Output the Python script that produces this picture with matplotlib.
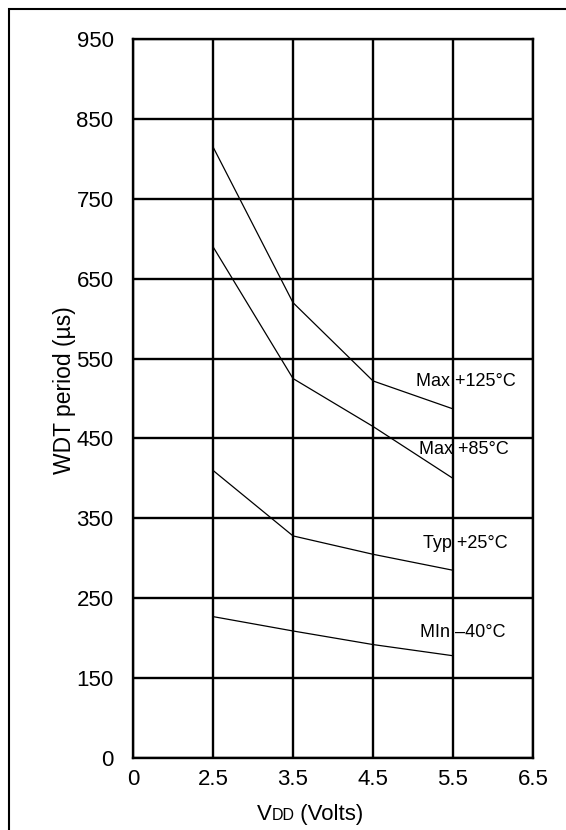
import numpy as np
import matplotlib
matplotlib.use("Agg")
import matplotlib.pyplot as plt
from matplotlib.patches import Rectangle
from matplotlib.offsetbox import TextArea, HPacker, AnnotationBbox

# ---- data ----
vdd = [2.5, 3.5, 4.5, 5.5]
max_125 = [815, 620, 522, 487]
max_85 = [690, 525, 465, 400]
typ_25 = [410, 328, 305, 285]
min_40 = [227, 209, 192, 178]
series_labels = ["Max +125\u00b0C", "Max +85\u00b0C", "Typ +25\u00b0C", "MIn \u201340\u00b0C"]

x_ticks = [0, 2.5, 3.5, 4.5, 5.5, 6.5]
x_ticklabels = ["0", "2.5", "3.5", "4.5", "5.5", "6.5"]
y_ticks = [0, 150, 250, 350, 450, 550, 650, 750, 850, 950]
y_ticklabels = [str(v) for v in y_ticks]

plt.rcParams['font.family'] = ['Liberation Sans', 'DejaVu Sans']

W, H = 566, 830
fig = plt.figure(figsize=(W / 100, H / 100), dpi=100)
ax = fig.add_axes([133 / W, 1 - 758 / H, 400 / W, 719 / H])

# broken (equal-spaced) axes as in the original datasheet graph
xi = np.arange(len(x_ticks), dtype=float)
yi = np.arange(len(y_ticks), dtype=float)
ax.set_xscale('function', functions=(lambda v: np.interp(v, x_ticks, xi),
                                     lambda p: np.interp(p, xi, x_ticks)))
ax.set_yscale('function', functions=(lambda v: np.interp(v, y_ticks, yi),
                                     lambda p: np.interp(p, yi, y_ticks)))
ax.set_xlim(x_ticks[0], x_ticks[-1])
ax.set_ylim(y_ticks[0], y_ticks[-1])
ax.set_xticks(x_ticks)
ax.set_xticklabels(x_ticklabels)
ax.set_yticks(y_ticks)
ax.set_yticklabels(y_ticklabels)
ax.minorticks_off()

ax.grid(True, color='black', linewidth=1.7, zorder=1)
ax.set_axisbelow(True)
for sp in ax.spines.values():
    sp.set_linewidth(1.7)
    sp.set_color('black')
ax.tick_params(length=0, labelsize=16, colors='black')
ax.tick_params(axis='x', pad=8)
ax.tick_params(axis='y', pad=14)

for ys in (max_125, max_85, typ_25, min_40):
    ax.plot(vdd, ys, color='black', linewidth=0.9, zorder=3)

label_pos = [(0.7075, 0.5236), (0.715, 0.4292), (0.725, 0.2986), (0.7175, 0.175)]
for lab, (px, py) in zip(series_labels, label_pos):
    ax.text(px, py, lab, transform=ax.transAxes, fontsize=13, ha='left', va='center',
            color='black', zorder=4)

# y label
fig.text(65 / W, 1 - 390 / H, "WDT period (\u00b5s)", rotation=90, fontsize=16.5,
         ha='center', va='center', color='black')

# x label with small-caps subscript style "VDD"
parts = [TextArea("V", textprops=dict(fontsize=16, color='black')),
         TextArea("DD", textprops=dict(fontsize=11.5, color='black')),
         TextArea(" (Volts)", textprops=dict(fontsize=16, color='black'))]
box = HPacker(children=parts, align="baseline", pad=0, sep=0)
ab = AnnotationBbox(box, (310, 16), xycoords='figure pixels', frameon=False,
                    box_alignment=(0.5, 0.5), pad=0)
fig.add_artist(ab)

# outer frame (cropped on the right and bottom)
fig.add_artist(Rectangle((9 / W, -0.1), 2.0, 1 - 9 / H + 0.1, transform=fig.transFigure,
                         fill=False, edgecolor='black', linewidth=1.5))

fig.savefig("out.png", dpi=100)
